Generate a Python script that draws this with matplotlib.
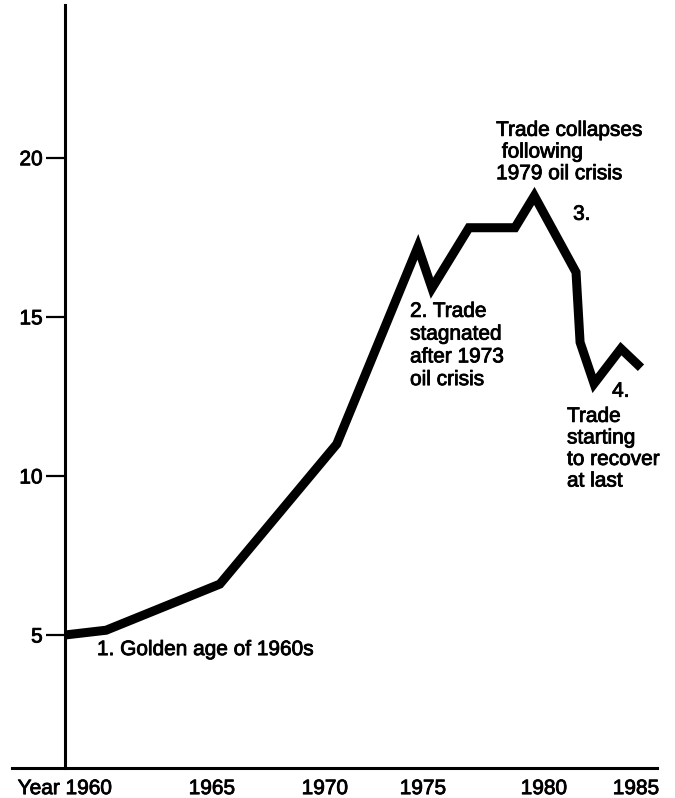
import numpy as np
import matplotlib
matplotlib.use('Agg')
import matplotlib.pyplot as plt
import matplotlib.patheffects as pe

# World trade index
years = [1960, 1961.4, 1965.35, 1970.6, 1974.74, 1975.37, 1976.9, 1978.8,
         1979.6, 1981.74, 1981.96, 1982.72, 1984.18, 1985.27]
trade = [5.0, 5.15, 6.6, 11.0, 17.2, 15.9, 17.8, 17.8,
         18.8, 16.4, 14.2, 12.9, 14.0, 13.4]

tick_years = [1960, 1965, 1970, 1975, 1980, 1985]
tick_labels = ['Year 1960', '1965', '1970', '1975', '1980', '1985']
y_ticks = [5, 10, 15, 20]

# the year axis of the original is drawn by hand, so the labels are not evenly spaced
knot_pos = np.array([65, 212, 325, 423, 544, 636], dtype=float)
knot_yr = np.array(tick_years, dtype=float)


def _piecewise(x, xs, ys):
    x = np.asarray(x, dtype=float)
    out = np.interp(x, xs, ys)
    lo = (ys[1] - ys[0]) / (xs[1] - xs[0])
    hi = (ys[-1] - ys[-2]) / (xs[-1] - xs[-2])
    out = np.where(x < xs[0], ys[0] + (x - xs[0]) * lo, out)
    out = np.where(x > xs[-1], ys[-1] + (x - xs[-1]) * hi, out)
    return out


def forward(x):
    return _piecewise(x, knot_yr, knot_pos)


def inverse(p):
    return _piecewise(p, knot_pos, knot_yr)


plt.rcParams['font.family'] = ['Liberation Sans', 'DejaVu Sans']

# scanned print looks a little heavier than the regular face
heavy = [pe.withStroke(linewidth=0.6, foreground='black')]

W, H = 675, 798
fig = plt.figure(figsize=(W / 100, H / 100), dpi=100, facecolor='white')
ax = fig.add_axes([12 / W, (H - 768) / H, (657 - 12) / W, (768 - 5) / H])

ax.set_xscale('function', functions=(forward, inverse))
ax.set_xlim(1958.2, 1986.14)
ax.set_ylim(0.82, 24.8)

ax.plot(years, trade, color='black', lw=6.5,
        solid_joinstyle='miter', solid_capstyle='butt', zorder=3)

# axes
for side in ['top', 'right']:
    ax.spines[side].set_visible(False)
ax.spines['left'].set_position(('data', 1960))
ax.spines['left'].set_linewidth(2.2)
ax.spines['bottom'].set_linewidth(2.2)

ax.set_yticks(y_ticks)
ax.set_yticklabels([str(v) for v in y_ticks])
ax.tick_params(axis='y', length=14, width=1.6, pad=2, labelsize=15)

ax.set_xticks(tick_years)
ax.set_xticklabels(tick_labels)
ax.tick_params(axis='x', length=0, pad=8, labelsize=15)
ax.minorticks_off()

for lbl in ax.get_xticklabels() + ax.get_yticklabels():
    lbl.set_path_effects(heavy)

# notes
fs = 15
notes = [
    (1961.09, 4.84, '1. Golden age of 1960s', 1.2),
    (1974.34, 15.47, '2. Trade\nstagnated\nafter 1973\noil crisis', 1.25),
    (1978.02, 21.16, 'Trade collapses\n following\n1979 oil crisis', 1.18),
    (1981.58, 18.52, '3.', 1.2),
    (1983.7, 12.96, '4.', 1.2),
    (1981.25, 12.17, 'Trade\nstarting\nto recover\nat last', 1.17),
]
for x, y, s, ls in notes:
    ax.text(x, y, s, fontsize=fs, ha='left', va='top', linespacing=ls,
            path_effects=heavy)

plt.savefig('out.png', dpi=100, facecolor='white')
